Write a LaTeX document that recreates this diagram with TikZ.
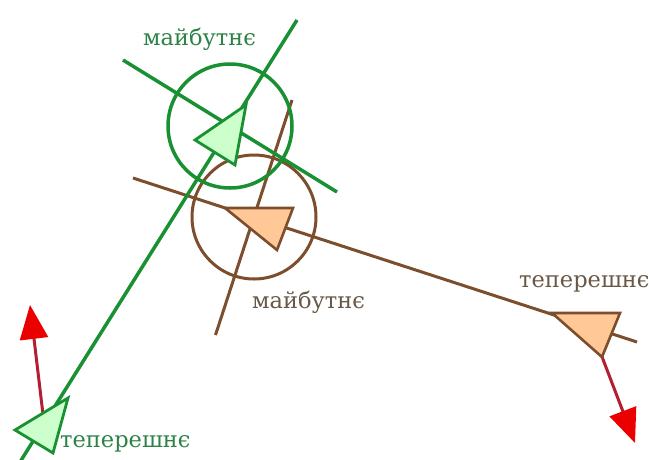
\documentclass[tikz,border=0pt]{standalone}
\usepackage{fontspec}
\setmainfont{DejaVu Serif}
\usetikzlibrary{arrows.meta}
\definecolor{gline}{RGB}{25,145,50}
\definecolor{gfill}{RGB}{204,255,204}
\definecolor{bline}{RGB}{125,78,45}
\definecolor{bfill}{RGB}{255,200,150}
\definecolor{btext}{RGB}{105,88,70}
\definecolor{gtext}{RGB}{45,130,70}
\definecolor{rhead}{RGB}{235,0,0}
\definecolor{rshaft}{RGB}{180,30,50}
\tikzset{
  gl/.style={draw=gline, line width=3.5pt},
  bl/.style={draw=bline, line width=3pt},
  gtri/.style={draw=gline, fill=gfill, line width=2.8pt, line join=miter},
  btri/.style={draw=bline, fill=bfill, line width=2.6pt, line join=miter},
  redarrow/.style={draw=rshaft, line width=3pt, -{Triangle[length=34pt,width=28pt,fill=rhead,color=rhead]}},
  lbl/.style={font=\fontsize{22.5}{24}\selectfont, anchor=base west, inner sep=0pt}
}
\begin{document}
\begin{tikzpicture}[x=1pt,y=-1pt]
\useasboundingbox (0,0) rectangle (649,459);
% brown frame
\coordinate (bc) at (254,217);
\coordinate (bA) at (133,178);
\coordinate (bB) at (637,342);
\coordinate (bP) at (292,100);
\coordinate (bQ) at (215.5,335);
\draw[bl] (bA) -- (bB);
\draw[bl] (bP) -- (bQ);
\draw[bl] (bc) circle[radius=62];
% green frame
\coordinate (gc) at (230,126);
\coordinate (gA) at (20,462);
\coordinate (gB) at (297,20);
\coordinate (gP) at (123,60);
\coordinate (gQ) at (337,192);
\draw[gl] (gA) -- (gB);
\draw[gl] (gP) -- (gQ);
\draw[gl] (gc) circle[radius=62];
% red arrows
\coordinate (r1s) at (44.5,427);
\coordinate (r1e) at (30,305);
\coordinate (r2s) at (591,328);
\coordinate (r2e) at (635,443);
\draw[redarrow] (r1s) -- (r1e);
\draw[redarrow] (r2s) -- (r2e);
% triangles
\draw[btri] (225,208) -- (293,208) -- (277,250) -- cycle;
\draw[btri] (552,313) -- (620,313) -- (602,357) -- cycle;
\draw[gtri] (195,140) -- (246,105) -- (235,165) -- cycle;
\draw[gtri] (15,430) -- (68,398) -- (53,453) -- cycle;
% labels
\node[lbl, text=gtext] (t1) at (143,45) {майбутнє};
\node[lbl, text=btext] (t2) at (252,308) {майбутнє};
\node[lbl, text=btext] (t3) at (519,287) {теперешнє};
\node[lbl, text=gtext] (t4) at (60,447) {теперешнє};
\end{tikzpicture}
\end{document}
